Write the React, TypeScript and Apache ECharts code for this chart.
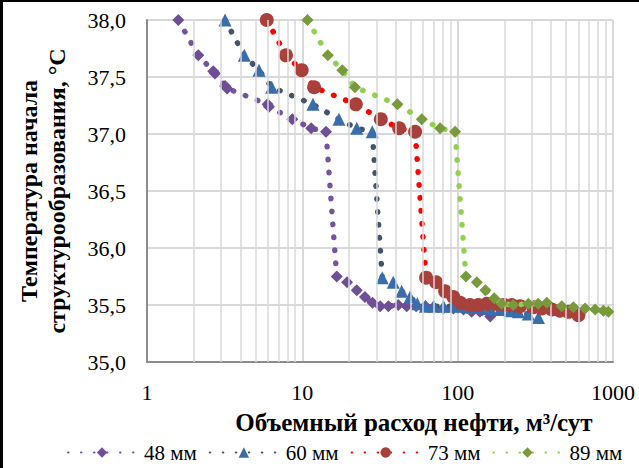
import React, { useEffect, useRef } from "react";
import * as echarts from "echarts";

const seriesNames = ["48 мм", "60 мм", "73 мм", "89 мм"];

const x48 = [1.59, 2.14, 2.67, 2.74, 3.18, 3.28, 5.98, 6.1, 8.62, 11.4, 14.2, 16.65, 19.4, 22.4, 25.3, 28.3, 31.7, 35.8, 41.5, 47, 54, 62, 70, 80.9, 93.8, 109, 123, 139, 162];
const y48 = [38.0, 37.69, 37.55, 37.53, 37.42, 37.4, 37.26, 37.24, 37.13, 37.05, 37.02, 35.75, 35.7, 35.63, 35.57, 35.52, 35.49, 35.49, 35.5, 35.49, 35.49, 35.49, 35.48, 35.47, 35.47, 35.46, 35.44, 35.44, 35.4];

const x60 = [3.18, 4.23, 5.26, 6.35, 11.7, 17.2, 22.4, 28.2, 32.7, 38.5, 43.6, 49.4, 55, 62, 70, 81, 93, 108, 124, 140, 162, 187, 217, 246, 285, 331];
const y60 = [38.0, 37.69, 37.56, 37.41, 37.26, 37.13, 37.05, 37.02, 35.74, 35.7, 35.62, 35.57, 35.51, 35.49, 35.49, 35.49, 35.49, 35.49, 35.48, 35.48, 35.47, 35.46, 35.45, 35.44, 35.42, 35.39];

const x73 = [5.9, 7.85, 9.91, 11.9, 22.1, 32.0, 42.0, 53.2, 62.6, 72.6, 83, 93.8, 104, 120, 136, 154, 176, 200, 223, 252, 307, 348, 404, 456, 516, 599];
const y73 = [38.0, 37.69, 37.56, 37.41, 37.26, 37.13, 37.05, 37.02, 35.74, 35.7, 35.62, 35.57, 35.52, 35.5, 35.5, 35.51, 35.51, 35.5, 35.5, 35.49, 35.48, 35.47, 35.46, 35.45, 35.44, 35.41];

const x89 = [10.8, 14.6, 18.1, 21.8, 40.9, 58.7, 77.1, 96.2, 113, 133, 151, 172, 192, 228, 285, 330, 375, 468, 556, 661, 767, 867, 934];
const y89 = [38.0, 37.69, 37.56, 37.41, 37.26, 37.13, 37.05, 37.02, 35.75, 35.7, 35.63, 35.56, 35.51, 35.5, 35.51, 35.51, 35.52, 35.49, 35.48, 35.47, 35.46, 35.45, 35.44];

const lineColors = ["#7454A0", "#44546A", "#FF0000", "#92D050"];
const markerColors = ["#6E4F96", "#3A6DAB", "#A8403C", "#789A3C"];
const markerShapes = ["diamond", "triangle", "circle", "diamond"];
const markerSizes = [12, 13, 14, 12];

const minorGrid = [2, 3, 4, 5, 6, 7, 8, 9, 20, 30, 40, 50, 60, 70, 80, 90, 200, 300, 400, 500, 600, 700, 800, 900];
const xTicks = [1, 10, 100, 1000];
const yTicks = [35, 35.5, 36, 36.5, 37, 37.5, 38];

const xTitle = "Объемный расход нефти, м³/сут";
const yTitle = "Температура начала\nструктурообразования, °C";

const FONT = "'Liberation Serif', 'Times New Roman', serif";

export default function App() {
  const ref = useRef<HTMLDivElement>(null);
  useEffect(() => {
    document.body.style.margin = "0";
    if (!ref.current) return;
    const chart = echarts.init(ref.current, null, { renderer: "svg" });
    const xs = [x48, x60, x73, x89];
    const ys = [y48, y60, y73, y89];
    const series: any[] = [
      {
        type: "line",
        name: "__grid",
        data: [],
        z: 1,
        silent: true,
        markLine: {
          silent: true,
          symbol: ["none", "none"],
          label: { show: false },
          lineStyle: { color: "#D9D9D9", width: 1.5, type: "solid" },
          data: minorGrid.map((v) => ({ xAxis: v })),
        },
      },
    ];
    seriesNames.forEach((name, i) => {
      series.push({
        type: "line",
        name,
        data: xs[i].map((x, j) => [x, ys[i][j]]),
        symbol: markerShapes[i],
        symbolSize: markerSizes[i],
        showAllSymbol: true,
        itemStyle: { color: markerColors[i] },
        lineStyle: {
          color: lineColors[i],
          width: 5.5,
          type: [0.5, 12.5],
          cap: "round",
        },
        z: 2 + i,
      });
    });
    chart.setOption({
      animation: false,
      backgroundColor: "#fff",
      textStyle: { fontFamily: FONT },
      graphic: [
        { type: "rect", shape: { x: 0, y: 0, width: 3, height: 468 }, style: { fill: "#000" }, z: 100 },
        { type: "rect", shape: { x: 0, y: 0, width: 639, height: 2 }, style: { fill: "#000" }, z: 100 },
        {
          type: "text",
          x: 414,
          y: 422,
          z: 100,
          style: {
            text: xTitle,
            fontFamily: FONT,
            fontSize: 25,
            fontWeight: "bold",
            fill: "#000",
            textAlign: "center",
            textVerticalAlign: "middle",
          },
        },
      ],
      grid: { left: 147, top: 20, right: 26, bottom: 106, containLabel: false },
      legend: {
        top: 437,
        left: 62,
        data: seriesNames,
        itemWidth: 68,
        itemHeight: 13,
        itemGap: 12,
        textStyle: { fontFamily: FONT, fontSize: 21, color: "#000", padding: [0, 0, 0, 3] },
      },
      xAxis: {
        type: "log",
        logBase: 10,
        min: xTicks[0],
        max: xTicks[xTicks.length - 1],
        axisLine: { show: true, lineStyle: { color: "#8C8C8C", width: 2 } },
        axisTick: { show: false },
        axisLabel: {
          margin: 19,
          fontSize: 22,
          color: "#000",
          fontFamily: FONT,
          formatter: (v: number) => String(Math.round(v)),
        },
        splitLine: { show: true, lineStyle: { color: "#D9D9D9", width: 2 } },
      },
      yAxis: {
        type: "value",
        min: yTicks[0],
        max: yTicks[yTicks.length - 1],
        interval: 0.5,
        name: yTitle,
        nameLocation: "middle",
        nameRotate: 90,
        nameGap: 76,
        nameTextStyle: { fontFamily: FONT, fontSize: 24, fontWeight: "bold", color: "#000", lineHeight: 28 },
        axisLine: { show: true, lineStyle: { color: "#8C8C8C", width: 2 } },
        axisTick: { show: false },
        axisLabel: {
          margin: 21,
          fontSize: 22,
          color: "#000",
          fontFamily: FONT,
          formatter: (v: number) => v.toFixed(1).replace(".", ","),
        },
        splitLine: { show: true, lineStyle: { color: "#D9D9D9", width: 2 } },
      },
      series,
    });
    return () => chart.dispose();
  }, []);
  return <div ref={ref} style={{ width: 639, height: 468 }} />;
}
